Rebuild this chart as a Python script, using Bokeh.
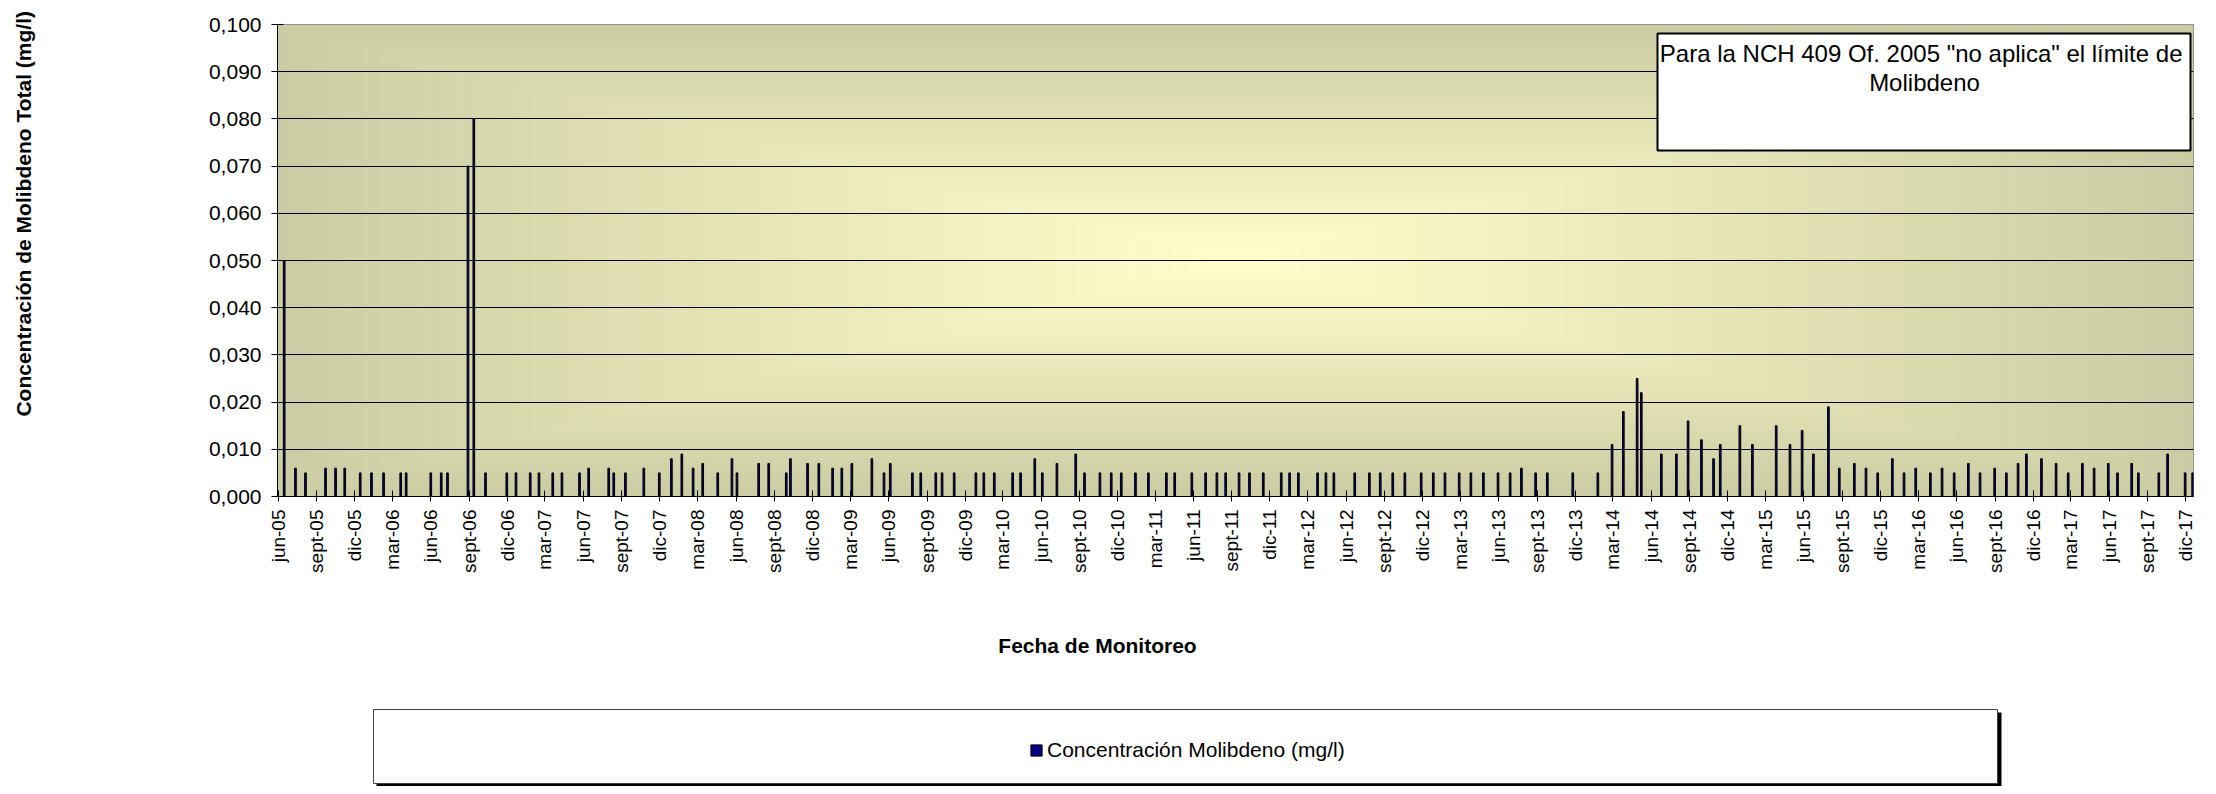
import math
import numpy as np
import pandas as pd
from bokeh.plotting import figure
from bokeh.layouts import column
from bokeh.models import (Range1d, FixedTicker, CustomJSTickFormatter, Label,
                          BoxAnnotation, Legend, LegendItem, ColumnDataSource)
from bokeh.core.properties import value
from bokeh.embed import file_html
from bokeh.resources import INLINE

# ---------------- data ----------------
SAMPLE_DATES = [
    "2005-06-15", "2005-07-12", "2005-08-05", "2005-09-22", "2005-10-16", "2005-11-07",
    "2005-12-14", "2006-01-10", "2006-02-08", "2006-03-21", "2006-04-03", "2006-06-01",
    "2006-06-26", "2006-07-11", "2006-08-29", "2006-09-12", "2006-10-10", "2006-11-30",
    "2006-12-22", "2007-01-25", "2007-02-15", "2007-03-20", "2007-04-11", "2007-05-23",
    "2007-06-14", "2007-08-01", "2007-08-13", "2007-09-10", "2007-10-24", "2007-11-30",
    "2007-12-29", "2008-01-23", "2008-02-19", "2008-03-13", "2008-04-18", "2008-05-22",
    "2008-06-03", "2008-07-25", "2008-08-18", "2008-09-29", "2008-10-09", "2008-11-19",
    "2008-12-16", "2009-01-18", "2009-02-09", "2009-03-05", "2009-04-22", "2009-05-21",
    "2009-06-05", "2009-07-28", "2009-08-17", "2009-09-22", "2009-10-07", "2009-11-05",
    "2009-12-27", "2010-01-15", "2010-02-09", "2010-03-25", "2010-04-13", "2010-05-17",
    "2010-06-04", "2010-07-09", "2010-08-23", "2010-09-13", "2010-10-20", "2010-11-16",
    "2010-12-10", "2011-01-13", "2011-02-13", "2011-03-28", "2011-04-17", "2011-05-28",
    "2011-06-30", "2011-07-27", "2011-08-17", "2011-09-18", "2011-10-13", "2011-11-15",
    "2011-12-28", "2012-01-17", "2012-02-07", "2012-03-24", "2012-04-13", "2012-05-02",
    "2012-06-21", "2012-07-26", "2012-08-21", "2012-09-20", "2012-10-19", "2012-11-27",
    "2012-12-26", "2013-01-23", "2013-02-26", "2013-03-26", "2013-04-25", "2013-05-30",
    "2013-06-28", "2013-07-25", "2013-08-28", "2013-09-25", "2013-11-25", "2014-01-24",
    "2014-02-27", "2014-03-26", "2014-04-28", "2014-05-08", "2014-06-25", "2014-07-31",
    "2014-08-28", "2014-09-29", "2014-10-28", "2014-11-13", "2014-12-30", "2015-01-29",
    "2015-03-27", "2015-04-29", "2015-05-28", "2015-06-24", "2015-07-30", "2015-08-25",
    "2015-09-30", "2015-10-28", "2015-11-25", "2015-12-30", "2016-01-27", "2016-02-24",
    "2016-03-30", "2016-04-27", "2016-05-26", "2016-06-29", "2016-07-27", "2016-08-31",
    "2016-09-28", "2016-10-26", "2016-11-15", "2016-12-21", "2017-01-25", "2017-02-23",
    "2017-03-29", "2017-04-26", "2017-05-30", "2017-06-21", "2017-07-25", "2017-08-10",
    "2017-09-28", "2017-10-19", "2017-11-30", "2017-12-18",
]
MO_VALUES = [
    0.050, 0.006, 0.005, 0.006, 0.006, 0.006,
    0.005, 0.005, 0.005, 0.005, 0.005, 0.005,
    0.005, 0.005, 0.070, 0.080, 0.005, 0.005,
    0.005, 0.005, 0.005, 0.005, 0.005, 0.005,
    0.006, 0.006, 0.005, 0.005, 0.006, 0.005,
    0.008, 0.009, 0.006, 0.007, 0.005, 0.008,
    0.005, 0.007, 0.007, 0.005, 0.008, 0.007,
    0.007, 0.006, 0.006, 0.007, 0.008, 0.005,
    0.007, 0.005, 0.005, 0.005, 0.005, 0.005,
    0.005, 0.005, 0.005, 0.005, 0.005, 0.008,
    0.005, 0.007, 0.009, 0.005, 0.005, 0.005,
    0.005, 0.005, 0.005, 0.005, 0.005, 0.005,
    0.005, 0.005, 0.005, 0.005, 0.005, 0.005,
    0.005, 0.005, 0.005, 0.005, 0.005, 0.005,
    0.005, 0.005, 0.005, 0.005, 0.005, 0.005,
    0.005, 0.005, 0.005, 0.005, 0.005, 0.005,
    0.005, 0.006, 0.005, 0.005, 0.005, 0.005,
    0.011, 0.018, 0.025, 0.022, 0.009, 0.009,
    0.016, 0.012, 0.008, 0.011, 0.015, 0.011,
    0.015, 0.011, 0.014, 0.009, 0.019, 0.006,
    0.007, 0.006, 0.005, 0.008, 0.005, 0.006,
    0.005, 0.006, 0.005, 0.007, 0.005, 0.006,
    0.005, 0.007, 0.009, 0.008, 0.007, 0.005,
    0.007, 0.006, 0.007, 0.005, 0.007, 0.005,
    0.005, 0.009, 0.005, 0.005,
]
TICK_LABELS = [
    "jun-05", "sept-05", "dic-05",
    "mar-06", "jun-06", "sept-06", "dic-06",
    "mar-07", "jun-07", "sept-07", "dic-07",
    "mar-08", "jun-08", "sept-08", "dic-08",
    "mar-09", "jun-09", "sept-09", "dic-09",
    "mar-10", "jun-10", "sept-10", "dic-10",
    "mar-11", "jun-11", "sept-11", "dic-11",
    "mar-12", "jun-12", "sept-12", "dic-12",
    "mar-13", "jun-13", "sept-13", "dic-13",
    "mar-14", "jun-14", "sept-14", "dic-14",
    "mar-15", "jun-15", "sept-15", "dic-15",
    "mar-16", "jun-16", "sept-16", "dic-16",
    "mar-17", "jun-17", "sept-17", "dic-17",
]
Y_TICKS = [0.0, 0.01, 0.02, 0.03, 0.04, 0.05, 0.06, 0.07, 0.08, 0.09, 0.1]
SERIES_NAME = "Concentración Molibdeno (mg/l)"
X_TITLE = "Fecha de Monitoreo"
Y_TITLE = "Concentración de Molibdeno Total (mg/l)"
NOTE_LINES = ['Para la NCH 409 Of. 2005  "no aplica" el límite de', "Molibdeno"]

FONT = "Liberation Sans"
BAR_FILL = "#000080"

# ---------------- positions on the date axis ----------------
origin = pd.Timestamp("2005-06-01")
x_days = (pd.to_datetime(SAMPLE_DATES) - origin).days.to_numpy()
tick_dates = pd.date_range("2005-06-01", periods=len(TICK_LABELS), freq="3MS")
tick_pos = [int(d) for d in (tick_dates - origin).days]

X0, X1 = -2, 4585
TOTAL_W, TOTAL_H = 2208, 786
MAIN_H = 590
FRAME_L, FRAME_R = 277, 2193

# ================= main chart =================
p = figure(width=TOTAL_W, height=MAIN_H, output_backend="svg",
           toolbar_location=None, tools="", title=None,
           x_range=Range1d(X0, X1), y_range=Range1d(0, 0.1),
           min_border_left=FRAME_L, min_border_right=TOTAL_W - FRAME_R,
           min_border_top=24, min_border_bottom=MAIN_H - 496)
p.background_fill_color = "white"
p.border_fill_color = "white"
p.outline_line_color = "#808080"
p.outline_line_width = 1

# gradient background (light centre, olive edges)
H, W = 236, 958
yy = np.linspace(-1, 1, H)[:, None]
xx = np.linspace(-1, 1, W)[None, :]
t = np.maximum(np.abs(xx), np.abs(yy))
c_in = np.array([255, 255, 204], dtype=float)
c_out = np.array([204, 204, 164], dtype=float)
img = np.empty((H, W), dtype=np.uint32)
view = img.view(dtype=np.uint8).reshape((H, W, 4))
for k in range(3):
    view[:, :, k] = np.round(c_in[k] + (c_out[k] - c_in[k]) * t).astype(np.uint8)
view[:, :, 3] = 255
p.image_rgba(image=[img], x=X0, y=0, dw=X1 - X0, dh=0.1, level="image")

# bars
src = ColumnDataSource(dict(x=x_days, y=MO_VALUES))
bars = p.vbar(x="x", top="y", bottom=0, width=4, source=src,
              fill_color=BAR_FILL, line_color="black", line_width=1)

# axes
yt = FixedTicker(ticks=Y_TICKS)
p.yaxis.ticker = yt
p.ygrid.ticker = yt
p.yaxis.formatter = CustomJSTickFormatter(code="return tick.toFixed(3).replace('.', ',');")
p.yaxis.major_label_text_font = FONT
p.yaxis.major_label_text_font_size = "21px"
p.yaxis.major_label_text_color = "black"
p.yaxis.major_tick_in = 6
p.yaxis.major_tick_out = 6
p.yaxis.major_label_standoff = 10
p.yaxis.minor_tick_line_color = None
p.yaxis.axis_line_color = "black"
p.yaxis.major_tick_line_color = "black"
# y title: leading no-break spaces lift the visible text above the frame centre,
# as in the original chart
p.yaxis.axis_label = "\u00a0" * 16 + Y_TITLE
p.yaxis.axis_label_standoff = 171
p.yaxis.axis_label_text_font = FONT
p.yaxis.axis_label_text_font_size = "21px"
p.yaxis.axis_label_text_font_style = "bold"
p.yaxis.axis_label_text_color = "black"

xt = FixedTicker(ticks=tick_pos)
p.xaxis.ticker = xt
p.xaxis.major_label_overrides = dict(zip(tick_pos, TICK_LABELS))
p.xaxis.major_label_orientation = math.pi / 2
p.xaxis.major_label_text_font = FONT
p.xaxis.major_label_text_font_size = "19px"
p.xaxis.major_label_text_color = "black"
p.xaxis.major_tick_in = 6
p.xaxis.major_tick_out = 5
p.xaxis.major_label_standoff = 8
p.xaxis.minor_tick_line_color = None
p.xaxis.axis_line_color = "black"
p.xaxis.major_tick_line_color = "black"

p.xgrid.visible = False
p.ygrid.grid_line_color = "black"
p.ygrid.grid_line_width = 1

# note box inside the plot area
p.add_layout(BoxAnnotation(left=1380, right=1913, top=463, bottom=346,
                           left_units="screen", right_units="screen",
                           top_units="screen", bottom_units="screen",
                           fill_color="white", fill_alpha=1.0,
                           line_color="black", line_alpha=1.0, line_width=2))
for i, line in enumerate(NOTE_LINES):
    p.add_layout(Label(x=1647, y=443 - 29 * i, x_units="screen", y_units="screen", text=line,
                       text_align="center", text_baseline="middle",
                       text_font=FONT, text_font_size="24px", text_color="black"))

# ================= bottom panel: x title + legend =================
# (its frame lines up with the chart frame, so page x coordinates are used as its range)
BOT_H = TOTAL_H - MAIN_H
bf = figure(width=TOTAL_W, height=BOT_H, output_backend="svg", toolbar_location=None, tools="",
            title=None, x_range=Range1d(FRAME_L, FRAME_R), y_range=Range1d(0, BOT_H),
            min_border_left=FRAME_L, min_border_right=TOTAL_W - FRAME_R,
            min_border_top=0, min_border_bottom=0,
            x_axis_location=None, y_axis_location=None)
bf.outline_line_color = None
bf.xgrid.visible = False
bf.ygrid.visible = False
bf.background_fill_color = "white"
bf.border_fill_color = "white"

bf.text(x=[1097], y=[TOTAL_H - 645], text=[X_TITLE],
        text_align="center", text_baseline="middle",
        text_font=value(FONT), text_font_size="21px", text_font_style="bold",
        text_color="black")
# legend frame with shadow
bf.quad(left=[376], right=[2001], top=[TOTAL_H - 712], bottom=[0],
        fill_color="black", line_color=None)
bf.quad(left=[373], right=[1997], top=[TOTAL_H - 709], bottom=[TOTAL_H - 783],
        fill_color="white", line_color="#404040", line_width=1)
# legend entry, styled like the bars (its one sample sits outside the visible panel)
dummy = bf.vbar(x=[-1000], top=[0], bottom=[0], width=1,
                fill_color=BAR_FILL, line_color="black", line_width=1)
legend = Legend(items=[LegendItem(label=SERIES_NAME, renderers=[dummy])],
                location=(1029 - FRAME_L, TOTAL_H - 750 - 12), orientation="horizontal",
                glyph_width=14, glyph_height=14, label_standoff=4,
                padding=0, margin=0, spacing=0,
                border_line_alpha=0, background_fill_alpha=0,
                label_text_font=FONT, label_text_font_size="21px",
                label_text_color="black")
bf.add_layout(legend)

layout = column(p, bf, spacing=0)

open("out.html", "w").write(file_html(layout, INLINE))
